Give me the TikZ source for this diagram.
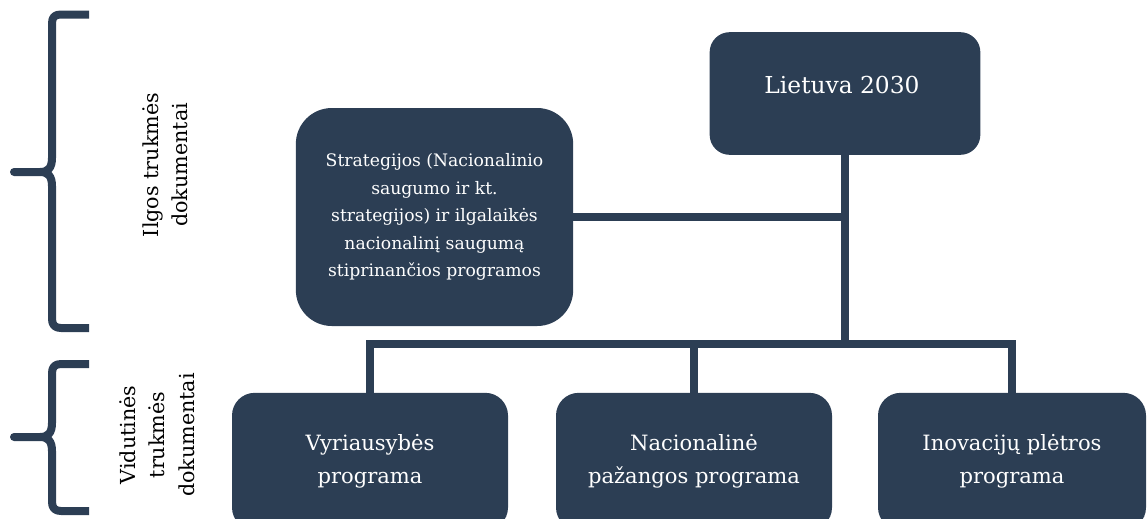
\documentclass[tikz,border=0pt]{standalone}
\usepackage{fontspec}
\setmainfont{DejaVu Serif}
\definecolor{navy}{RGB}{44,62,84}

\def\longbrace{(89,14.5) -- (61,14.5) .. controls (55,14.5) and (52,17) .. (52,23) -- (52,158) .. controls (52,168) and (48,172) .. (40,172) -- (14,172) -- (40,172) .. controls (48,172) and (52,176) .. (52,186) -- (52,319) .. controls (52,325) and (55,328) .. (61,328) -- (89,328)}
\def\shortbrace{(89,364) -- (61,364) .. controls (55,364) and (52,367) .. (52,373) -- (52,423) .. controls (52,433) and (48,437) .. (40,437) -- (14,437) -- (40,437) .. controls (48,437) and (52,441) .. (52,451) -- (52,502) .. controls (52,508) and (55,511) .. (61,511) -- (89,511)}

\begin{document}
\begin{tikzpicture}[x=0.75pt,y=-0.75pt,
    block/.style={fill=navy,rounded corners=#1,inner sep=0pt,text=white,align=center},
    block/.default=17pt,
    link/.style={draw=navy,line width=6pt},
    sidetext/.style={rotate=90,align=center,font=\fontsize{15.5}{22}\selectfont}]

    \useasboundingbox (0,0) rectangle (1148,518);

    \draw[navy,line width=6pt,line join=round] \longbrace;
    \draw[navy,line width=6pt,line join=round] \shortbrace;

    \node[sidetext] (longterm) at (165,165) {Ilgos trukmės\\dokumentai};
    \node[sidetext] (midterm) at (157,435) {Vidutinės\\trukmės\\dokumentai};

    \node[block=15pt,minimum width=203pt,minimum height=92pt] (lietuva) at (845,93.5) {};
    \node[text=white,font=\fontsize{17.5}{21}\selectfont] (lietuvatext) at (842,85) {Lietuva 2030};

    \node[block=27pt,minimum width=208pt,minimum height=163.5pt,
          font=\fontsize{12.9}{20.6}\selectfont] (strat) at (434.5,217)
        {Strategijos (Nacionalinio\\saugumo ir kt.\\strategijos) ir ilgalaikės\\nacionalinį saugumą\\stiprinančios programos};

    \node[block,minimum width=207pt,minimum height=103pt,
          font=\fontsize{15.8}{24.75}\selectfont] (vyr) at (370,461.5) {Vyriausybės\\programa};
    \node[block,minimum width=207pt,minimum height=103pt,
          font=\fontsize{15.8}{24.75}\selectfont] (nac) at (694,461.5) {Nacionalinė\\pažangos programa};
    \node[block,minimum width=201pt,minimum height=103pt,
          font=\fontsize{15.8}{24.75}\selectfont] (inov) at (1012,461.5) {Inovacijų plėtros\\programa};

    \coordinate (fork) at (845,344);

    \draw[link] (lietuva.south) -- (fork);
    \draw[link] (strat.east) -- (strat.east -| fork);
    \draw[link] (vyr.north) |- (fork) -| (inov.north);
    \draw[link] (nac.north) -- (nac.north |- fork);

\end{tikzpicture}
\end{document}
